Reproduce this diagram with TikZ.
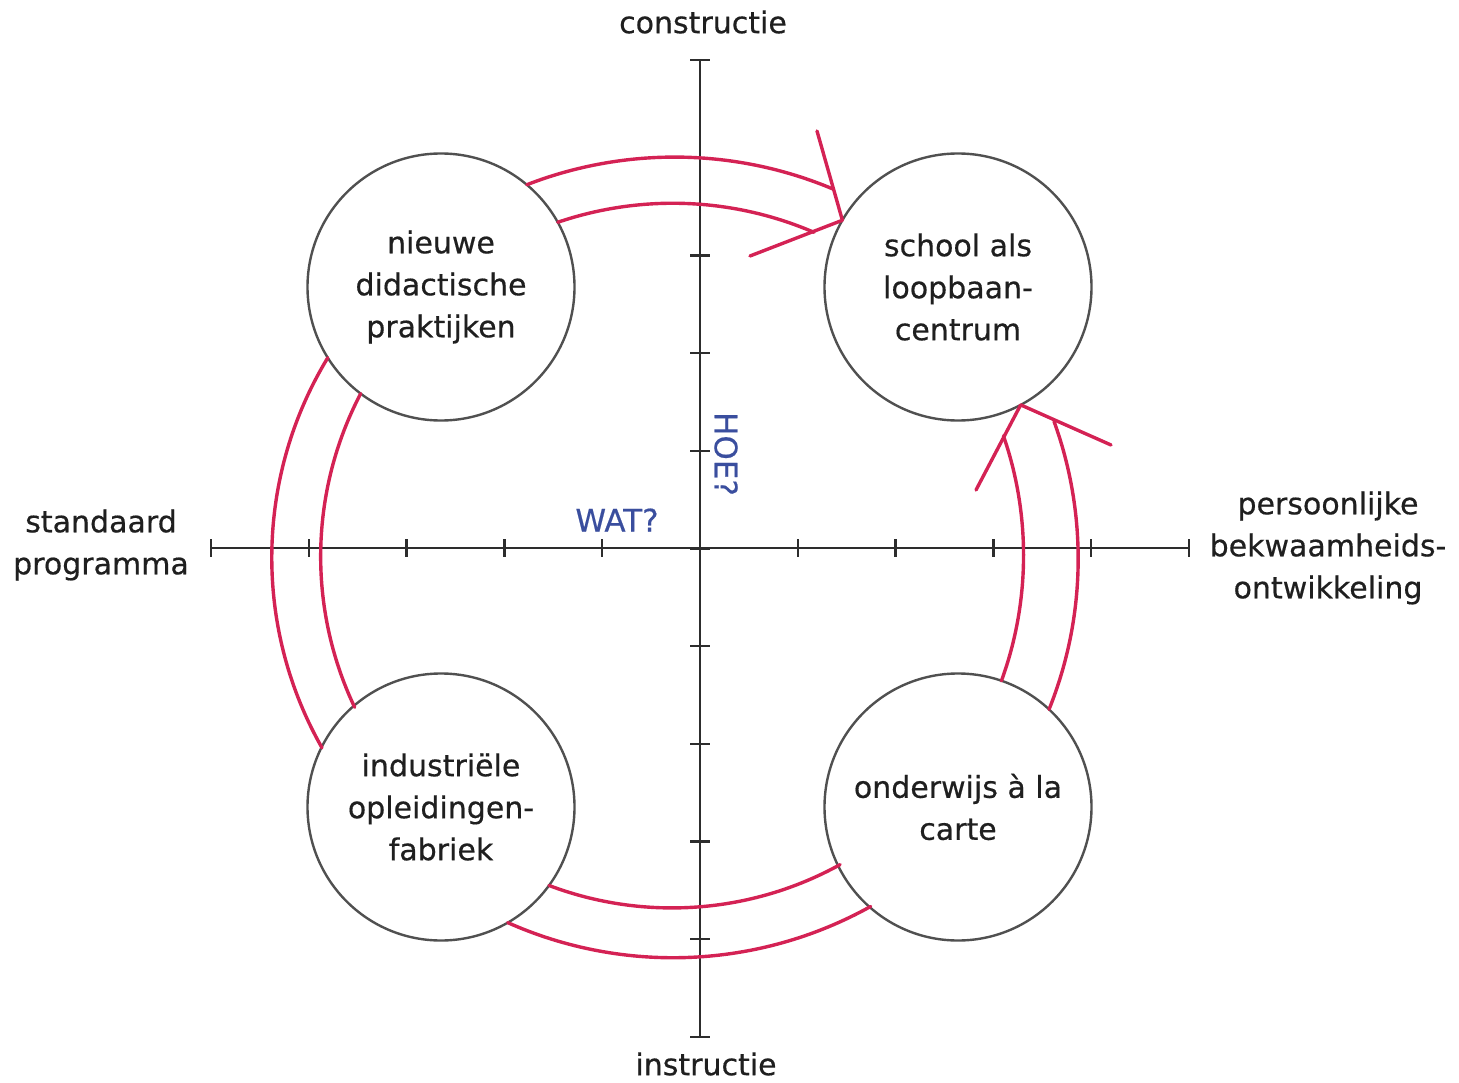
\documentclass[tikz,border=0pt]{standalone}
\usepackage{fontspec}
\setmainfont{DejaVu Sans}[FakeBold=0.5]
\definecolor{arcred}{RGB}{212,34,84}
\definecolor{qblue}{RGB}{58,78,158}
\definecolor{circgray}{RGB}{80,80,80}
\definecolor{axisgray}{RGB}{45,45,45}
\begin{document}
\begin{tikzpicture}[x=1pt,y=1pt,
  lbl/.style={font=\fontsize{30}{42}\selectfont, align=center, text=black!88, inner sep=0},
  bub/.style={circle, draw=circgray, line width=2.4, minimum size=267, inner sep=0, outer sep=0, lbl},
  axisline/.style={draw=axisgray, line width=2.3},
  redline/.style={draw=arcred, line width=3.4, line cap=round, line join=round},
  qtext/.style={font=\fontsize{31}{36}\selectfont, text=qblue, inner sep=0}]
\useasboundingbox (0,0) rectangle (1459,-1083);
% axes
\coordinate (xl) at (211,-548);
\coordinate (xr) at (1189,-548);
\coordinate (yt) at (700,-60);
\coordinate (yb) at (700,-1037);
\draw[axisline] (xl) -- (xr);
\draw[axisline] (yt) -- (yb);
\foreach \i in {0,...,10} {
  \draw[axisline] (211+97.8*\i,-539) -- (211+97.8*\i,-557);
  \draw[axisline] (690,-60-97.7*\i) -- (710,-60-97.7*\i);
}
% circles
\node[bub] (tl) at (441,-287) {nieuwe\\didactische\\praktijken};
\node[bub] (tr) at (958,-287) {school als\\loopbaan-\\centrum};
\node[bub] (bl) at (441,-807) {industriële\\opleidingen-\\fabriek};
\node[bub] (br) at (958,-807) {onderwijs à la\\carte};
% arcs
\draw[redline] (tl.50) arc[start angle=111.2, end angle=67.3, radius=408.7];
\draw[redline] (tl.29) arc[start angle=108.8, end angle=66.7, radius=357];
\draw[redline] (tl.212) arc[start angle=148.7, end angle=209.6, radius=384.9];
\draw[redline] (tl.233) arc[start angle=152.4, end angle=205.4, radius=351.6];
\draw[redline] (bl.324) arc[start angle=249.3, end angle=298.9, radius=347.9];
\draw[redline] (bl.300) arc[start angle=246.0, end angle=299.1, radius=406.4];
\draw[redline] (br.71) arc[start angle=-20.0, end angle=19.07, radius=366.3];
\draw[redline] (br.47) arc[start angle=-21.9, end angle=19.92, radius=403.5];
% arrowheads
\coordinate (ta1) at (817,-131);
\coordinate (ta2) at (750,-256);
\draw[redline] (ta1) -- (tr.150) -- (ta2);
\coordinate (ra1) at (976,-490);
\coordinate (ra2) at (1111,-445);
\draw[redline] (ra1) -- (tr.298) -- (ra2);
% labels
\node[lbl] (ltop) at (703,-22) {constructie};
\node[lbl] (lbot) at (706,-1064) {instructie};
\node[lbl] (lleft) at (101,-545) {standaard\\programma};
\node[lbl] (lright) at (1328,-548) {persoonlijke\\bekwaamheids-\\ontwikkeling};
\node[qtext] (wat) at (617,-520) {WAT?};
\node[qtext, rotate=-90] (hoe) at (726,-454) {HOE?};
\end{tikzpicture}
\end{document}
